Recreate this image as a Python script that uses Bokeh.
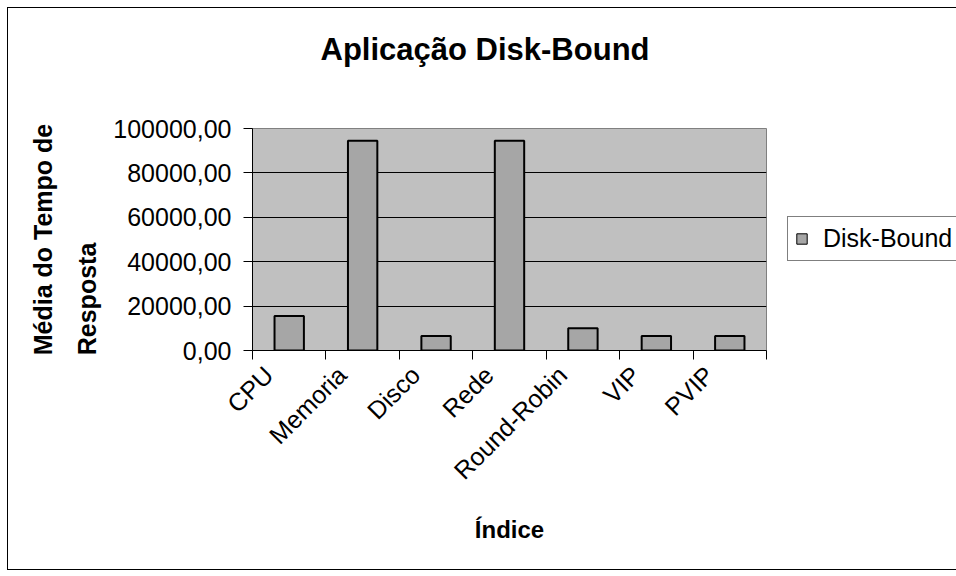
import math
from bokeh.plotting import figure
from bokeh.layouts import row, column
from bokeh.models import Range1d, FixedTicker, Legend, LegendItem, Title, Label
from bokeh.embed import file_html
from bokeh.resources import INLINE

# ---- data ----
categories = ["CPU", "Memoria", "Disco", "Rede", "Round-Robin", "VIP", "PVIP"]
disk_bound = [15500, 94500, 6500, 94500, 10000, 6500, 6500]
y_ticks = [0, 20000, 40000, 60000, 80000, 100000]
y_tick_labels = ["0,00", "20000,00", "40000,00", "60000,00", "80000,00", "100000,00"]
series_name = "Disk-Bound"
title_text = "Aplicação Disk-Bound"
x_title = "Índice"
y_title_lines = ["Média do Tempo de", "Resposta"]

FONT = "Liberation Sans"
BAR_FILL = "#A6A6A6"
LABEL_SHIFT = 0.28  # rotated category labels sit left of the category centre

x_pos = [i + 0.5 for i in range(len(categories))]
boundaries = list(range(len(categories) + 1))
label_pos = [x - LABEL_SHIFT for x in x_pos]

# ---- title strip ----
tf = figure(width=948, height=105, output_backend="svg", toolbar_location=None,
            x_axis_type=None, y_axis_type=None, min_border=0,
            x_range=Range1d(0, 1), y_range=Range1d(0, 1))
tf.outline_line_color = None
tf.background_fill_color = "white"
tf.border_fill_color = "white"
tf.add_layout(Label(x=476.5, y=64, x_units="screen", y_units="screen",
                    text=title_text, text_align="center", text_baseline="alphabetic",
                    text_font=FONT, text_font_style="bold", text_font_size="31px",
                    text_color="black"))

# ---- main chart ----
p = figure(width=773, height=456, output_backend="svg", toolbar_location=None,
           x_range=Range1d(0, len(categories)), y_range=Range1d(y_ticks[0], y_ticks[-1]),
           min_border_left=244, min_border_top=15, min_border_right=15,
           min_border_bottom=219)
p.background_fill_color = "#C0C0C0"
p.border_fill_color = "white"
p.outline_line_color = "#808080"
p.outline_line_width = 1

r = p.vbar(x=x_pos, top=disk_bound, width=0.4, fill_color=BAR_FILL,
           line_color="black", line_width=2)

xa = p.xaxis[0]
xa.ticker = FixedTicker(ticks=label_pos, minor_ticks=boundaries)
xa.major_label_overrides = {x: c for x, c in zip(label_pos, categories)}
xa.major_tick_out = 0
xa.major_tick_in = 0
xa.minor_tick_out = 9
xa.minor_tick_in = 0
xa.minor_tick_line_color = "black"
xa.axis_line_color = "black"
xa.major_label_orientation = math.pi / 4
xa.major_label_text_font = FONT
xa.major_label_text_font_size = "25px"
xa.major_label_text_color = "black"
xa.major_label_standoff = 11

ya = p.yaxis[0]
ya.ticker = FixedTicker(ticks=y_ticks, minor_ticks=[])
ya.major_label_overrides = {t: l for t, l in zip(y_ticks, y_tick_labels)}
ya.major_tick_out = 9
ya.major_tick_in = 0
ya.major_tick_line_color = "black"
ya.axis_line_color = "black"
ya.major_label_text_font = FONT
ya.major_label_text_font_size = "25px"
ya.major_label_text_color = "black"
ya.major_label_standoff = 12

p.xgrid.visible = False
p.ygrid.ticker = FixedTicker(ticks=y_ticks[1:-1], minor_ticks=[])
p.ygrid.grid_line_color = "black"
p.ygrid.grid_line_width = 1

# y axis title (two lines)
p.add_layout(Title(text="\n".join(y_title_lines), align="center", standoff=18,
                   vertical_align="bottom", text_line_height=1.6,
                   text_font=FONT, text_font_style="bold", text_font_size="25px",
                   text_color="black"), "left")

# x axis title
p.add_layout(Title(text=x_title, align="center", standoff=32,
                   text_font=FONT, text_font_style="bold", text_font_size="24px",
                   text_color="black"), "below")

# ---- legend area (its frame is aligned with the main frame by the row) ----
lf = figure(width=175, height=456, output_backend="svg", toolbar_location=None,
            x_axis_type=None, y_axis_type=None, min_border=0,
            x_range=Range1d(0, 1), y_range=Range1d(0, 1))
lf.outline_line_color = None
lf.background_fill_color = "white"
lf.border_fill_color = "white"
# same bars as the chart, hidden here; used only for the legend swatch
swatch = lf.vbar(x="x", top="top", source=r.data_source, width=0.4,
                 fill_color=BAR_FILL, line_color="black", line_width=1)
swatch.visible = False
legend = Legend(items=[LegendItem(label=series_name, renderers=[swatch])],
                location=(6, 89), orientation="vertical",
                label_text_font=FONT, label_text_font_size="25px",
                label_text_color="black",
                glyph_width=13, glyph_height=13, padding=7, margin=0,
                spacing=0, label_standoff=15,
                inactive_fill_alpha=0,
                border_line_color="black", border_line_width=1,
                background_fill_color="white", background_fill_alpha=1)
lf.add_layout(legend)

layout = column(tf, row(p, lf, spacing=0), spacing=0)
layout.margin = (7, 0, 0, 7)
layout.styles = {"border-left": "1px solid black", "border-top": "1px solid black",
                 "border-bottom": "1px solid black"}

open("out.html", "w").write(file_html(layout, INLINE))
